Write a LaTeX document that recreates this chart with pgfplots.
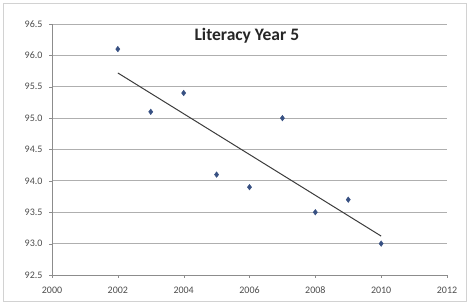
\documentclass[border=0pt]{standalone}
\usepackage{pgfplots}
\pgfplotsset{compat=1.18}
\usepackage{fontspec}
\setmainfont{Carlito}
\definecolor{gridgray}{RGB}{175,175,175}
\definecolor{axgray}{RGB}{140,140,140}
\definecolor{mkblue}{RGB}{55,80,130}
\definecolor{trend}{RGB}{60,60,60}
\begin{document}
\begin{tikzpicture}[x=1pt,y=1pt]
\path[use as bounding box] (0,0) rectangle (469,304);
\draw[gray!35, line width=0.8pt] (3,3) rectangle (466,301);
\begin{axis}[
  at={(52pt,29pt)}, anchor=south west,
  scale only axis, width=395pt, height=251pt,
  xmin=2000, xmax=2012, ymin=92.5, ymax=96.5,
  xtick={2000,2002,...,2012},
  ytick={92.5,93,...,96.5},
  axis lines=left, axis line style={-, axgray, line width=0.8pt},
  ymajorgrids, grid style={gridgray, line width=0.8pt},
  tick align=outside, major tick length=3pt,
  tick style={axgray},
  ticklabel style={font=\fontsize{10}{12}\selectfont, text=black!70},
  /pgf/number format/assume math mode=true,
  yticklabel style={xshift=-3pt, /pgf/number format/.cd, fixed, fixed zerofill, precision=1},
  xticklabel style={yshift=-5pt, /pgf/number format/.cd, 1000 sep={}},
  clip=false,
]
\addplot[only marks, mark=diamond*, mark size=2.8pt, color=mkblue] coordinates {
 (2002,96.1) (2003,95.1) (2004,95.4) (2005,94.1) (2006,93.9)
 (2007,95.0) (2008,93.5) (2009,93.7) (2010,93.0)
};
\addplot[trend, line width=1pt] coordinates {(2002,95.72) (2010,93.12)};
\node[font=\bfseries\fontsize{17.5}{20}\selectfont, text=black!85] at (axis cs:2005.92,96.31) {Literacy Year 5};
\end{axis}
\end{tikzpicture}
\end{document}
